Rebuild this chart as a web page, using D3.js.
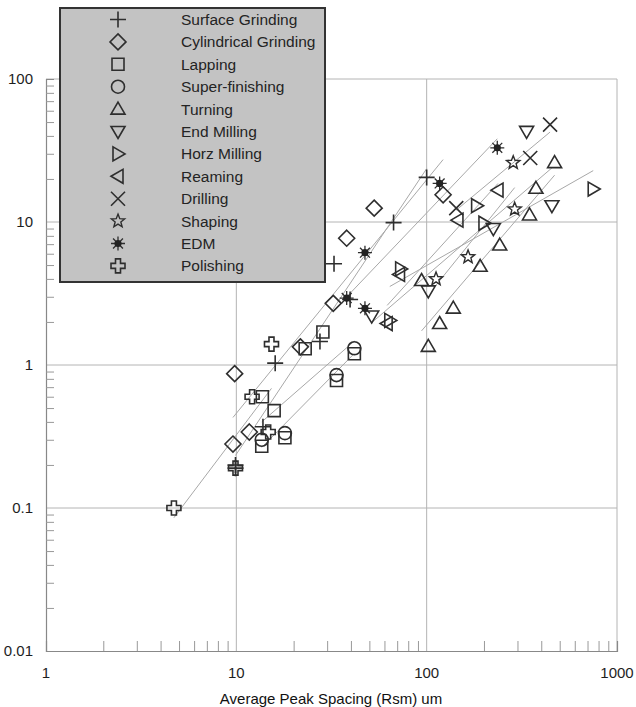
<!DOCTYPE html>
<html>
<head>
<meta charset="utf-8">
<script src="https://cdn.jsdelivr.net/npm/d3@7"></script>
<style>
  html, body { margin: 0; padding: 0; background: #fff; }
  svg { display: block; font-family: "Liberation Sans", Arial, Helvetica, sans-serif; }
</style>
</head>
<body>
<svg id="chart" width="636" height="707"></svg>
<script>
// Roughness (Rq) against average peak spacing (Rsm) for twelve processes, log-log.
const processes = ["Surface Grinding", "Cylindrical Grinding", "Lapping", "Super-finishing",
  "Turning", "End Milling", "Horz Milling", "Reaming", "Drilling", "Shaping", "EDM", "Polishing"];
const symbols = ["plus", "diamond", "square", "circle", "triUp", "triDown",
  "triRight", "triLeft", "cross", "star", "burst", "polish"];

const surfaceGrindingX = [9.9, 9.9, 13.8, 16, 27.5, 39.6, 32.6, 67, 100];
const surfaceGrindingY = [0.19, 0.2, 0.37, 1.03, 1.46, 2.87, 5.1, 9.9, 20.5];
const cylindricalX = [9.8, 9.6, 11.7, 21.7, 32.3, 38, 53, 122];
const cylindricalY = [0.87, 0.28, 0.34, 1.34, 2.7, 7.7, 12.5, 15.5];
const lappingX = [13.7, 15.8, 13.6, 18, 23, 28.5, 33.6, 41.7];
const lappingY = [0.6, 0.48, 0.27, 0.31, 1.3, 1.7, 0.78, 1.2];
const superFinishingX = [13.6, 18, 33.6, 41.7];
const superFinishingY = [0.3, 0.334, 0.85, 1.31];
const turningX = [94, 102, 117, 138, 191, 242, 347, 375, 470];
const turningY = [3.9, 1.35, 1.95, 2.5, 4.9, 6.9, 11.2, 17.2, 26];
const endMillingX = [51.4, 102, 224, 335, 455];
const endMillingY = [2.2, 3.3, 9.0, 43, 13];
const horzMillingX = [64, 73, 183, 200, 750];
const horzMillingY = [2.05, 4.7, 13, 9.8, 17];
const reamingX = [62, 72, 146, 237];
const reamingY = [1.95, 4.3, 10.3, 16.7];
const drillingX = [143, 350, 445];
const drillingY = [12.5, 28, 48];
const shapingX = [112, 165, 290, 285];
const shapingY = [4.0, 5.7, 12.3, 26];
const edmX = [38, 47.4, 47.4, 117, 235];
const edmY = [2.94, 2.49, 6.1, 18.6, 33];
const polishingX = [4.7, 9.9, 12.1, 14.7, 15.3];
const polishingY = [0.1, 0.19, 0.6, 0.34, 1.4];

const seriesX = [surfaceGrindingX, cylindricalX, lappingX, superFinishingX, turningX, endMillingX,
  horzMillingX, reamingX, drillingX, shapingX, edmX, polishingX];
const seriesY = [surfaceGrindingY, cylindricalY, lappingY, superFinishingY, turningY, endMillingY,
  horzMillingY, reamingY, drillingY, shapingY, edmY, polishingY];

const xTicks = [1, 10, 100, 1000];
const xTickLabels = ["1", "10", "100", "1000"];
const yTicks = [0.01, 0.1, 1, 10, 100];
const yTickLabels = ["0.01", "0.1", "1", "10", "100"];
const xTitle = "Average Peak Spacing (Rsm) um";

const svg = d3.select("#chart");
const plot = { left: 46, right: 617, top: 79, bottom: 651 };
const x = d3.scaleLog().domain([1, 1000]).range([plot.left, plot.right]);
const y = d3.scaleLog().domain([0.01, 100]).range([plot.bottom, plot.top]);

const ink = "#2e2e2e";
const gridColor = "#b4b4b4";

// decade grid lines
const grid = svg.append("g");
grid.selectAll("line.gx").data(xTicks.slice(1)).join("line")
  .attr("x1", d => x(d)).attr("x2", d => x(d))
  .attr("y1", plot.top).attr("y2", plot.bottom)
  .attr("stroke", gridColor).attr("stroke-width", 1);
grid.selectAll("line.gy").data(yTicks.slice(1)).join("line")
  .attr("x1", plot.left).attr("x2", plot.right)
  .attr("y1", d => y(d)).attr("y2", d => y(d))
  .attr("stroke", gridColor).attr("stroke-width", 1);

// minor ticks (2..9 within each decade), pointing into the plot
const minorX = [], minorY = [];
for (let dec = 1; dec < 1000; dec *= 10) for (let k = 2; k <= 9; k++) minorX.push(dec * k);
for (let dec = 0.01; dec < 99; dec *= 10) for (let k = 2; k <= 9; k++) minorY.push(dec * k);

const xAxis = d3.axisBottom(x).tickValues(minorX).tickSize(-10).tickFormat("");
const yAxis = d3.axisLeft(y).tickValues(minorY).tickSize(-8).tickFormat("");
const gx = svg.append("g").attr("transform", `translate(0,${plot.bottom})`).call(xAxis);
const gy = svg.append("g").attr("transform", `translate(${plot.left},0)`).call(yAxis);
[gx, gy].forEach(g => {
  g.select(".domain").attr("stroke", "#888").attr("stroke-width", 1.2);
  g.selectAll(".tick line").attr("stroke", "#999").attr("stroke-width", 1);
});

// major tick labels
svg.append("g").selectAll("text").data(xTicks).join("text")
  .attr("x", d => x(d)).attr("y", plot.bottom + 27)
  .attr("text-anchor", "middle").attr("font-size", 15).attr("fill", "#1e1e1e")
  .text((d, i) => xTickLabels[i]);
svg.append("g").selectAll("text").data(yTicks).join("text")
  .attr("x", 33).attr("y", d => y(d) + 5)
  .attr("text-anchor", "end").attr("font-size", 15).attr("fill", "#1e1e1e")
  .text((d, i) => yTickLabels[i]);

svg.append("text").attr("x", 331).attr("y", 704)
  .attr("text-anchor", "middle").attr("font-size", 15).attr("fill", "#111")
  .text(xTitle);

// power-law trend per process: least squares in log-log space across each process's range
const lines = svg.append("g");
seriesX.forEach((xs, i) => {
  const ys = seriesY[i];
  const lx = xs.map(Math.log10), ly = ys.map(Math.log10);
  const mx = d3.mean(lx), my = d3.mean(ly);
  const sxy = d3.sum(lx, (v, j) => (v - mx) * (ly[j] - my));
  const sxx = d3.sum(lx, v => (v - mx) * (v - mx));
  const b = sxy / sxx, a = my - b * mx;
  const [x0, x1] = d3.extent(xs);
  const fit = v => Math.pow(10, a + b * Math.log10(v));
  lines.append("line")
    .attr("x1", x(x0)).attr("y1", y(fit(x0)))
    .attr("x2", x(x1)).attr("y2", y(fit(x1)))
    .attr("stroke", "#a8a8a8").attr("stroke-width", 1);
});

// marker shapes
function starPath(R, r) {
  let p = "";
  for (let k = 0; k < 10; k++) {
    const rad = k % 2 === 0 ? R : r;
    const ang = -Math.PI / 2 + k * Math.PI / 5;
    p += (k === 0 ? "M" : "L") + (rad * Math.cos(ang)).toFixed(2) + "," + (rad * Math.sin(ang)).toFixed(2);
  }
  return p + "Z";
}
function drawSymbol(g, type) {
  const st = { fill: "none", stroke: ink, "stroke-width": 1.6 };
  const path = d => { const p = g.append("path").attr("d", d); Object.entries(st).forEach(([k, v]) => p.attr(k, v)); return p; };
  switch (type) {
    case "plus": path("M-8,0H8M0,-8V8"); break;
    case "diamond": path("M0,-8L8,0L0,8L-8,0Z"); break;
    case "square": path("M-6,-6H6V6H-6Z"); break;
    case "circle": g.append("circle").attr("r", 6.5).attr("fill", "none").attr("stroke", ink).attr("stroke-width", 1.6); break;
    case "triUp": path("M0,-7L7,5L-7,5Z"); break;
    case "triDown": path("M0,7L7,-5L-7,-5Z"); break;
    case "triRight": path("M7,0L-5,-7L-5,7Z"); break;
    case "triLeft": path("M-7,0L5,-7L5,7Z"); break;
    case "cross": path("M-7,-7L7,7M7,-7L-7,7"); break;
    case "star": path(starPath(7, 3)).attr("stroke-width", 1.4); break;
    case "burst": {
      let d = "";
      for (let k = 0; k < 8; k++) {
        const ang = k * Math.PI / 4;
        d += `M0,0L${(7 * Math.cos(ang)).toFixed(2)},${(7 * Math.sin(ang)).toFixed(2)}`;
      }
      path(d).attr("stroke-width", 1.3);
      g.append("circle").attr("r", 3.6).attr("fill", "#222");
      break;
    }
    case "polish": path("M-2.5,-7H2.5V-2.5H7V2.5H2.5V7H-2.5V2.5H-7V-2.5H-2.5Z"); break;
  }
}

// data markers
const marks = svg.append("g");
seriesX.forEach((xs, i) => {
  xs.forEach((v, j) => {
    const g = marks.append("g").attr("transform", `translate(${x(v)},${y(seriesY[i][j])})`);
    drawSymbol(g, symbols[i]);
  });
});

// legend
const legend = svg.append("g");
legend.append("rect").attr("x", 60).attr("y", 8).attr("width", 265).attr("height", 274)
  .attr("fill", "#c3c3c3").attr("stroke", "#333").attr("stroke-width", 2);
processes.forEach((name, i) => {
  const cy = 19.5 + i * 22.4;
  const g = legend.append("g").attr("transform", `translate(118,${cy})`);
  drawSymbol(g, symbols[i]);
  legend.append("text").attr("x", 181).attr("y", cy + 5.5)
    .attr("font-size", 15.5).attr("fill", "#242424").text(name);
});
</script>
</body>
</html>
